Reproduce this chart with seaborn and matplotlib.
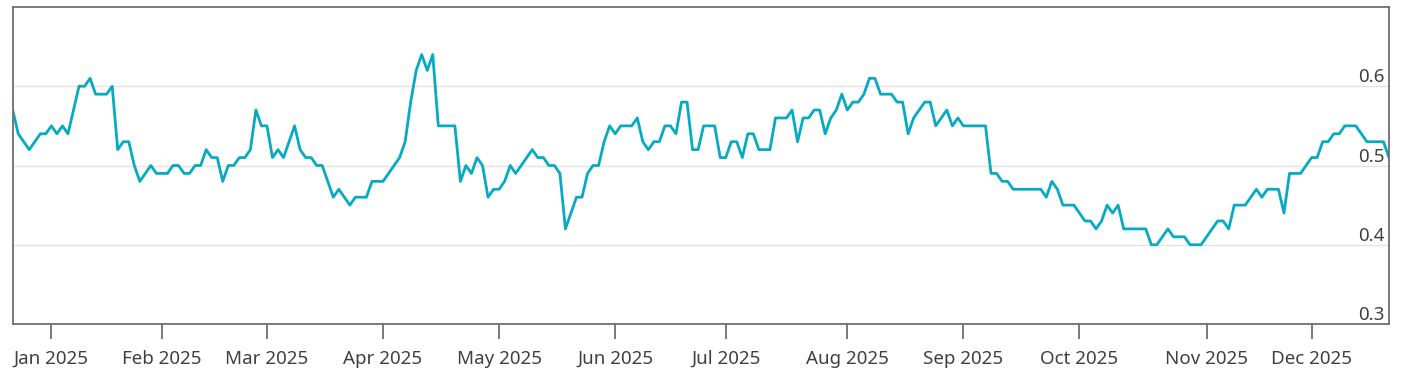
import numpy as np
import pandas as pd
import matplotlib.pyplot as plt
import seaborn as sns

# trading calendar (NYSE closures in the period)
START = "2024-12-20"
HOLIDAYS = ["2024-12-25", "2025-01-01", "2025-01-09", "2025-01-20", "2025-02-17",
            "2025-04-18", "2025-05-26", "2025-06-19", "2025-07-04", "2025-09-01",
            "2025-11-27", "2025-12-25"]

# daily values, one list per month
dec_2024 = [0.57, 0.54, 0.53, 0.52, 0.53, 0.54, 0.54]
jan = [0.55, 0.54, 0.55, 0.54, 0.57, 0.60, 0.60, 0.61, 0.59, 0.59,
       0.59, 0.60, 0.52, 0.53, 0.53, 0.50, 0.48, 0.49, 0.50, 0.49]
feb = [0.49, 0.49, 0.50, 0.50, 0.49, 0.49, 0.50, 0.50, 0.52, 0.51,
       0.51, 0.48, 0.50, 0.50, 0.51, 0.51, 0.52, 0.57, 0.55]
mar = [0.55, 0.51, 0.52, 0.51, 0.53, 0.55, 0.52, 0.51, 0.51, 0.50,
       0.50, 0.48, 0.46, 0.47, 0.46, 0.45, 0.46, 0.46, 0.46, 0.48, 0.48]
apr = [0.48, 0.49, 0.50, 0.51, 0.53, 0.58, 0.62, 0.64, 0.62, 0.64,
       0.55, 0.55, 0.55, 0.55, 0.48, 0.50, 0.49, 0.51, 0.50, 0.46, 0.47]
may = [0.47, 0.48, 0.50, 0.49, 0.50, 0.51, 0.52, 0.51, 0.51, 0.50,
       0.50, 0.49, 0.42, 0.44, 0.46, 0.46, 0.49, 0.50, 0.50, 0.53, 0.55]
jun = [0.54, 0.55, 0.55, 0.55, 0.56, 0.53, 0.52, 0.53, 0.53, 0.55,
       0.55, 0.54, 0.58, 0.58, 0.52, 0.52, 0.55, 0.55, 0.55, 0.51]
jul = [0.51, 0.53, 0.53, 0.51, 0.54, 0.54, 0.52, 0.52, 0.52, 0.56,
       0.56, 0.56, 0.57, 0.53, 0.56, 0.56, 0.57, 0.57, 0.54, 0.56, 0.57, 0.59]
aug = [0.57, 0.58, 0.58, 0.59, 0.61, 0.61, 0.59, 0.59, 0.59, 0.58,
       0.58, 0.54, 0.56, 0.57, 0.58, 0.58, 0.55, 0.56, 0.57, 0.55, 0.56]
sep = [0.55, 0.55, 0.55, 0.55, 0.55, 0.49, 0.49, 0.48, 0.48, 0.47,
       0.47, 0.47, 0.47, 0.47, 0.47, 0.46, 0.48, 0.47, 0.45, 0.45, 0.45]
oct = [0.44, 0.43, 0.43, 0.42, 0.43, 0.45, 0.44, 0.45, 0.42, 0.42,
       0.42, 0.42, 0.42, 0.40, 0.40, 0.41, 0.42, 0.41, 0.41, 0.41, 0.40, 0.40, 0.40]
nov = [0.41, 0.42, 0.43, 0.43, 0.42, 0.45, 0.45, 0.45, 0.46, 0.47,
       0.46, 0.47, 0.47, 0.47, 0.44, 0.49, 0.49, 0.49, 0.50]
dec = [0.51, 0.51, 0.53, 0.53, 0.54, 0.54, 0.55, 0.55, 0.55, 0.54,
       0.53, 0.53, 0.53, 0.53, 0.51]

Y_TICKS = [0.3, 0.4, 0.5, 0.6]

values = dec_2024 + jan + feb + mar + apr + may + jun + jul + aug + sep + oct + nov + dec
dates = pd.bdate_range(START, periods=len(values), freq="C", holidays=HOLIDAYS)
df = pd.DataFrame({"pos": np.arange(len(values)), "value": values, "date": dates})

# first trading day of each month -> tick
new_month = (df["date"].dt.month != df["date"].shift().dt.month) & (df["pos"] > 0)
month_ticks = df.loc[new_month, "pos"].tolist()
month_labels = df.loc[new_month, "date"].dt.strftime("%b %Y").tolist()

sns.set_theme(style="white")
plt.rcParams["font.family"] = ["Noto Sans", "DejaVu Sans"]

W, H = 1401, 380
fig = plt.figure(figsize=(W / 100, H / 100), dpi=100)
ax = fig.add_axes([12.7 / W, 1 - 324 / H, (1389 - 12.7) / W, (324 - 7) / H])

sns.lineplot(data=df, x="pos", y="value", color="#06abc3", linewidth=2.0, ax=ax)

ax.set_xlim(0, len(values) - 1)
ax.set_ylim(0.3, 0.7)
ax.set_xlabel("")
ax.set_ylabel("")

# x axis: month ticks
ax.set_xticks(month_ticks)
ax.set_xticklabels(month_labels)
ax.tick_params(axis="x", direction="out", length=10.5, width=1.1, color="#555555",
               pad=8, labelsize=13.5, labelcolor="#404040", bottom=True)

# y axis: labels inside on the right, sitting on the gridlines
ax.yaxis.tick_right()
ax.set_yticks(Y_TICKS)
ax.set_yticklabels([f"{v:.1f}" for v in Y_TICKS], ha="right", va="bottom")
ax.tick_params(axis="y", length=0, pad=-3.5, labelsize=13.5, labelcolor="#404040")
ax.yaxis.grid(True, color="#e3e3e3", linewidth=1)
ax.xaxis.grid(False)

for side in ["left", "right", "top", "bottom"]:
    ax.spines[side].set_visible(True)
    ax.spines[side].set_color("#6e6e6e")
    ax.spines[side].set_linewidth(1.3)

plt.savefig("out.png", dpi=100)
